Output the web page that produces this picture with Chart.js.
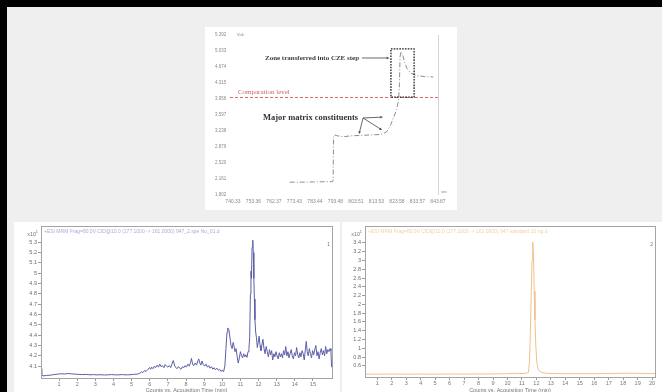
<!DOCTYPE html>
<html>
<head>
<meta charset="utf-8">
<script src="https://cdn.jsdelivr.net/npm/chart.js@4.4.1/dist/chart.umd.min.js"></script>
<style>
  html, body { margin: 0; padding: 0; width: 662px; height: 392px; overflow: hidden; background: #000; }
  #sheet { position: absolute; left: 7px; top: 7px; width: 655px; height: 385px; background: #efefef; }
  .panel { position: absolute; background: #fff; }
  canvas { position: absolute; }
</style>
</head>
<body>
<div id="sheet"></div>
<div class="panel" style="left:205px;top:27px;width:252px;height:183px;"></div>
<div class="panel" style="left:14px;top:222px;width:326px;height:170px;"></div>
<div class="panel" style="left:342px;top:222px;width:320px;height:170px;"></div>
<canvas id="isotach" width="252" height="183" style="left:205px;top:27px;"></canvas>
<canvas id="ticTrace" width="326" height="170" style="left:14px;top:222px;"></canvas>
<canvas id="mrmTrace" width="320" height="170" style="left:342px;top:222px;"></canvas>
<script>
// ---- ITP detector record (time in s, signal in V) ----
const itpTimeLabels = ["740.33","753.36","762.37","773.43","783.44","793.48","803.51","813.53","823.58","833.57","843.87"];
const itpVoltTicks = [1.802, 2.161, 2.520, 2.879, 3.238, 3.597, 3.956, 4.315, 4.674, 5.033, 5.392];
const itpTrace = [
  [769.0, 2.09], [775.0, 2.09], [781.0, 2.095], [786.0, 2.10], [790.6, 2.10],
  [790.9, 2.14], [791.1, 3.10], [791.5, 3.15], [793.0, 3.13], [796.0, 3.11],
  [800.0, 3.13], [805.0, 3.14], [810.0, 3.15], [815.0, 3.16], [818.0, 3.22],
  [820.0, 3.38], [821.5, 3.55], [823.0, 3.72], [824.0, 3.95], [824.4, 4.30],
  [824.7, 4.90], [825.2, 5.02], [826.0, 4.95], [827.0, 4.78], [828.2, 4.64],
  [830.0, 4.54], [833.0, 4.48], [837.0, 4.46], [841.5, 4.45]
];
const comparationLevel = 4.0;
const zoneBox = { start: 820.1, end: 831.8, low: 4.0, high: 5.08 };

// ---- MS trace 1 (time in min, counts x10^1) ----
const ticMinuteTicks = [1,2,3,4,5,6,7,8,9,10,11,12,13,14,15];
const ticCountTicks = [4.1,4.2,4.3,4.4,4.5,4.6,4.7,4.8,4.9,5.0,5.1,5.2,5.3];
const ticTrace = [
  [0.00,4.075],[0.04,4.02],[0.10,4.005],[0.3,4.01],[0.5,4.012],[0.7,4.018],[0.9,4.022],
  [1.1,4.026],[1.3,4.024],[1.5,4.028],[1.7,4.025],[1.9,4.022],[2.1,4.02],[2.3,4.018],
  [2.5,4.02],[2.7,4.016],[2.9,4.018],[3.1,4.015],[3.3,4.017],[3.5,4.014],[3.7,4.016],
  [3.9,4.018],[4.1,4.015],[4.3,4.016],[4.5,4.018],[4.7,4.015],[4.9,4.017],[5.1,4.02],
  [5.3,4.022],[5.45,4.03],[5.55,4.045],[5.6,4.035],[5.7,4.055],[5.8,4.05],[5.9,4.07],
  [6.0,4.085],[6.05,4.07],[6.1,4.09],[6.18,4.075],[6.25,4.10],[6.32,4.085],[6.4,4.11],
  [6.48,4.09],[6.55,4.12],[6.62,4.095],[6.7,4.105],[6.78,4.085],[6.85,4.115],[6.92,4.10],
  [7.0,4.09],[7.08,4.105],[7.15,4.085],[7.22,4.12],[7.3,4.155],[7.36,4.11],[7.42,4.09],
  [7.5,4.075],[7.58,4.095],[7.65,4.08],[7.72,4.07],[7.8,4.095],[7.88,4.085],[7.95,4.105],
  [8.02,4.09],[8.1,4.12],[8.18,4.10],[8.25,4.135],[8.3,4.175],[8.36,4.12],[8.42,4.105],
  [8.5,4.13],[8.58,4.11],[8.65,4.15],[8.7,4.17],[8.76,4.13],[8.82,4.11],[8.88,4.15],
  [8.95,4.115],[9.02,4.10],[9.1,4.12],[9.18,4.09],[9.25,4.105],[9.32,4.08],[9.4,4.095],
  [9.48,4.07],[9.55,4.085],[9.62,4.065],[9.7,4.08],[9.78,4.06],[9.85,4.07],[9.92,4.05],
  [10.0,4.06],[10.07,4.045],[10.14,4.10],[10.2,4.27],[10.26,4.43],[10.3,4.47],[10.36,4.455],
  [10.42,4.38],[10.48,4.30],[10.54,4.27],[10.6,4.33],[10.65,4.29],[10.7,4.24],[10.76,4.27],
  [10.82,4.19],[10.88,4.13],[10.94,4.18],[11.0,4.24],[11.06,4.20],[11.12,4.18],[11.18,4.22],
  [11.24,4.19],[11.3,4.21],[11.36,4.185],[11.42,4.24],[11.47,4.27],[11.51,4.38],[11.55,4.80],
  [11.58,5.02],[11.61,4.95],[11.64,5.25],[11.68,5.32],[11.71,5.20],[11.74,4.95],[11.77,4.75],
  [11.8,4.55],[11.84,4.43],[11.88,4.38],[11.93,4.28],[11.98,4.33],[12.03,4.39],[12.08,4.30],
  [12.13,4.25],[12.18,4.30],[12.24,4.36],[12.3,4.27],[12.36,4.22],[12.42,4.29],[12.48,4.24],
  [12.54,4.19],[12.6,4.26],[12.66,4.21],[12.72,4.25],[12.78,4.16],[12.84,4.22],[12.9,4.19],
  [12.96,4.24],[13.02,4.20],[13.08,4.17],[13.14,4.23],[13.2,4.19],[13.26,4.22],[13.32,4.18],
  [13.38,4.25],[13.44,4.21],[13.5,4.29],[13.56,4.20],[13.62,4.24],[13.68,4.18],[13.74,4.22],
  [13.8,4.26],[13.86,4.20],[13.92,4.17],[13.98,4.23],[14.04,4.20],[14.1,4.28],[14.16,4.21],
  [14.22,4.18],[14.28,4.23],[14.34,4.19],[14.4,4.25],[14.46,4.22],[14.52,4.16],[14.58,4.26],
  [14.63,4.34],[14.68,4.24],[14.74,4.20],[14.8,4.27],[14.86,4.22],[14.92,4.18],[14.98,4.25],
  [15.04,4.21],[15.1,4.26],[15.16,4.30],[15.22,4.20],[15.28,4.24],[15.34,4.17],[15.4,4.23],
  [15.46,4.27],[15.52,4.21],[15.58,4.25],[15.64,4.20],[15.7,4.29],[15.76,4.22],[15.82,4.26],
  [15.88,4.24],[15.94,4.27],[15.99,4.25],[16.03,4.09]
];

// ---- MS trace 2 (time in min, counts x10^1) ----
const mrmMinuteTicks = [1,2,3,4,5,6,7,8,9,10,11,12,13,14,15,16,17,18,19,20];
const mrmCountTicks = [0.6,0.8,1.0,1.2,1.4,1.6,1.8,2.0,2.2,2.4,2.6,2.8,3.0,3.2,3.4];
const mrmTrace = [
  [0.15,0.41],[1,0.41],[2,0.412],[3,0.41],[4,0.412],[5,0.41],[6,0.413],[7,0.412],
  [8,0.414],[9,0.415],[10,0.42],[10.5,0.428],[11,0.425],[11.3,0.43],[11.45,0.45],
  [11.52,0.70],[11.58,1.30],[11.64,2.20],[11.7,3.00],[11.75,3.42],[11.8,3.10],
  [11.85,2.30],[11.9,1.65],[11.96,1.05],[12.03,0.68],[12.1,0.55],[12.2,0.48],
  [12.35,0.45],[12.6,0.435],[13,0.425],[14,0.42],[15,0.42],[16,0.42],[17,0.425],
  [18,0.43],[18.5,0.432],[19,0.428],[20,0.425],[20.2,0.425]
];

Chart.defaults.font.family = '"Liberation Sans", Arial, sans-serif';
Chart.defaults.animation = false;
Chart.defaults.events = [];
Chart.defaults.plugins.legend.display = false;
Chart.defaults.plugins.tooltip.enabled = false;

const toPoints = arr => arr.map(([x, y]) => ({ x, y }));

function arrow(ctx, x1, y1, x2, y2, size) {
  const ang = Math.atan2(y2 - y1, x2 - x1);
  ctx.beginPath();
  ctx.moveTo(x1, y1);
  ctx.lineTo(x2 - Math.cos(ang) * size * 0.8, y2 - Math.sin(ang) * size * 0.8);
  ctx.stroke();
  ctx.beginPath();
  ctx.moveTo(x2, y2);
  ctx.lineTo(x2 - size * Math.cos(ang - 0.45), y2 - size * Math.sin(ang - 0.45));
  ctx.lineTo(x2 - size * Math.cos(ang + 0.45), y2 - size * Math.sin(ang + 0.45));
  ctx.closePath();
  ctx.fill();
}

// Annotations of the ITP record: comparation level, transferred zone, labels
const itpNotes = {
  id: 'itpNotes',
  afterDatasetsDraw(chart) {
    const { ctx, chartArea: a, scales: { x, y } } = chart;
    ctx.save();
    ctx.strokeStyle = '#d6d6d6';
    ctx.lineWidth = 1;
    const rx = Math.round(a.right) + 0.5;
    ctx.beginPath(); ctx.moveTo(rx, a.top); ctx.lineTo(rx, a.bottom); ctx.stroke();

    const cy = Math.round(y.getPixelForValue(comparationLevel)) + 0.5;
    ctx.strokeStyle = '#d86a6a';
    ctx.setLineDash([3, 2]);
    ctx.beginPath(); ctx.moveTo(a.left - 3, cy); ctx.lineTo(a.right + 2, cy); ctx.stroke();

    const bx1 = x.getPixelForValue(zoneBox.start), bx2 = x.getPixelForValue(zoneBox.end);
    const by1 = y.getPixelForValue(zoneBox.high), by2 = y.getPixelForValue(zoneBox.low);
    ctx.strokeStyle = '#1e1e1e';
    ctx.lineWidth = 1.3;
    ctx.setLineDash([1.6, 1.2]);
    ctx.strokeRect(bx1, by1, bx2 - bx1, by2 - by1);
    ctx.setLineDash([]);

    ctx.textBaseline = 'middle';
    ctx.textAlign = 'left';
    ctx.fillStyle = '#d06464';
    ctx.font = '7px "Liberation Serif", serif';
    ctx.fillText('Comparation level', x.getPixelForValue(742.8), y.getPixelForValue(4.11), 56);

    ctx.fillStyle = '#3c3c3c';
    ctx.font = 'bold 7px "Liberation Serif", serif';
    ctx.fillText('Zone transferred into CZE step', x.getPixelForValue(756.5), y.getPixelForValue(4.876), 94);
    ctx.font = 'bold 8.5px "Liberation Serif", serif';
    ctx.fillStyle = '#333';
    ctx.fillText('Major matrix constituents', x.getPixelForValue(755.5), y.getPixelForValue(3.53), 95);

    ctx.strokeStyle = '#444';
    ctx.fillStyle = '#444';
    ctx.lineWidth = 0.8;
    arrow(ctx, x.getPixelForValue(805.5), y.getPixelForValue(4.876), x.getPixelForValue(819.3), y.getPixelForValue(4.876), 3);
    const ox = x.getPixelForValue(806), oy = y.getPixelForValue(3.53);
    arrow(ctx, ox, oy, x.getPixelForValue(816.1), y.getPixelForValue(3.55), 3);
    arrow(ctx, ox, oy, x.getPixelForValue(815.6), y.getPixelForValue(3.26), 3);
    arrow(ctx, ox, oy, x.getPixelForValue(804.0), y.getPixelForValue(3.17), 3);

    ctx.fillStyle = '#888';
    ctx.font = '4px "Liberation Sans", sans-serif';
    ctx.fillText('Volt', a.left + 4, a.top);
    ctx.fillText('sec', a.right + 3, a.bottom - 3);
    ctx.restore();
  }
};

// Plot frame, acquisition header and multiplier of the MS traces
const msFrame = {
  id: 'msFrame',
  afterDraw(chart, args, o) {
    const { ctx, chartArea: a } = chart;
    ctx.save();
    ctx.strokeStyle = '#a4a4a4';
    ctx.lineWidth = 1;
    ctx.strokeRect(Math.round(a.left) + 0.5, Math.round(a.top) + 0.5,
      Math.round(a.right - a.left), Math.round(a.bottom - a.top));
    ctx.textBaseline = 'middle';
    ctx.textAlign = 'left';
    ctx.font = '5px "Liberation Sans", sans-serif';
    ctx.fillStyle = o.headerColor;
    ctx.fillText(o.header, a.left + 3, a.top + 5.5);
    ctx.fillStyle = '#777';
    ctx.textAlign = 'right';
    ctx.fillText(o.channel, a.right - 2, a.top + 18);
    ctx.font = '5.5px "Liberation Sans", sans-serif';
    ctx.fillText('x10', a.left - 5, a.top + 8);
    ctx.font = '4px "Liberation Sans", sans-serif';
    ctx.fillText('1', a.left - 3, a.top + 6);
    ctx.restore();
  }
};

new Chart(document.getElementById('isotach'), {
  type: 'line',
  data: { datasets: [{
    data: toPoints(itpTrace), borderColor: '#8c8c8c', borderWidth: 1,
    borderDash: [5, 2, 1, 2], pointRadius: 0, tension: 0
  }] },
  options: {
    responsive: false,
    layout: { padding: { top: 8, right: 19, left: 10, bottom: 0 } },
    scales: {
      x: {
        type: 'linear', min: 740.33, max: 843.87,
        afterBuildTicks: s => { s.ticks = itpTimeLabels.map((l, i) => ({ value: s.min + i * (s.max - s.min) / (itpTimeLabels.length - 1) })); },
        afterFit: s => { s.height = 15; },
        grid: { display: false, drawTicks: false }, border: { display: false },
        ticks: { callback: (v, i) => itpTimeLabels[i], font: { size: 5 }, color: '#8a8a8a', maxRotation: 0, autoSkip: false, padding: 4 }
      },
      y: {
        type: 'linear', min: 1.802, max: 5.392,
        afterBuildTicks: s => { s.ticks = itpVoltTicks.map(v => ({ value: v })); },
        afterFit: s => { s.width = 18; },
        grid: { display: false, drawTicks: false }, border: { display: false },
        ticks: { callback: v => v.toFixed(3), font: { size: 4.5 }, color: '#8a8a8a', crossAlign: 'far', autoSkip: false, padding: 2 }
      }
    }
  },
  plugins: [itpNotes]
});

function msChart(id, trace, color, xMin, xMax, xTicks, yMin, yMax, yTicks, axisWidth, axisHeight, padRight, frameOpts) {
  return new Chart(document.getElementById(id), {
    type: 'line',
    data: { datasets: [{ data: toPoints(trace), borderColor: color, borderWidth: 1, pointRadius: 0, tension: 0 }] },
    options: {
      responsive: false,
      layout: { padding: { top: 3, right: padRight, left: 0, bottom: 0 } },
      plugins: { msFrame: frameOpts },
      scales: {
        x: {
          type: 'linear', min: xMin, max: xMax,
          afterBuildTicks: s => { s.ticks = xTicks.map(v => ({ value: v })); },
          afterFit: s => { s.height = axisHeight; },
          border: { display: false },
          grid: { drawOnChartArea: false, drawTicks: true, tickLength: 3, color: '#9a9a9a' },
          ticks: { font: { size: 5.5 }, color: '#777', maxRotation: 0, autoSkip: false, padding: 0 },
          title: { display: true, text: 'Counts vs. Acquisition Time (min)', font: { size: 5.5 }, color: '#777', padding: { top: 0, bottom: -2 } }
        },
        y: {
          type: 'linear', min: yMin, max: yMax,
          afterBuildTicks: s => { s.ticks = yTicks.map(v => ({ value: v })); },
          afterFit: s => { s.width = axisWidth; },
          border: { display: false },
          grid: { drawOnChartArea: false, drawTicks: true, tickLength: 3, color: '#9a9a9a' },
          ticks: { callback: v => String(Number(v.toFixed(1))), font: { size: 5.5 }, color: '#6a6a6a', autoSkip: false, padding: 1 }
        }
      }
    },
    plugins: [msFrame]
  });
}

msChart('ticTrace', ticTrace, '#5d5fa6', 0, 16.05, ticMinuteTicks, 3.985, 5.455, ticCountTicks, 27, 14, 8,
  { header: '+ESI MRM Frag=80.0V CID@10.0 (177.1000 -> 161.0000) 947_2.spe No_01.d', headerColor: '#a9aadc', channel: '1' });

msChart('mrmTrace', mrmTrace, '#f0c08c', 0.15, 20.2, mrmMinuteTicks, 0.345, 3.78, mrmCountTicks, 23, 15, 7,
  { header: '+ESI MRM Frag=80.0V CID@10.0 (177.1000 -> 161.0000) 947-standard 10 ng.d', headerColor: '#f6cf9f', channel: '2' });
</script>
</body>
</html>
